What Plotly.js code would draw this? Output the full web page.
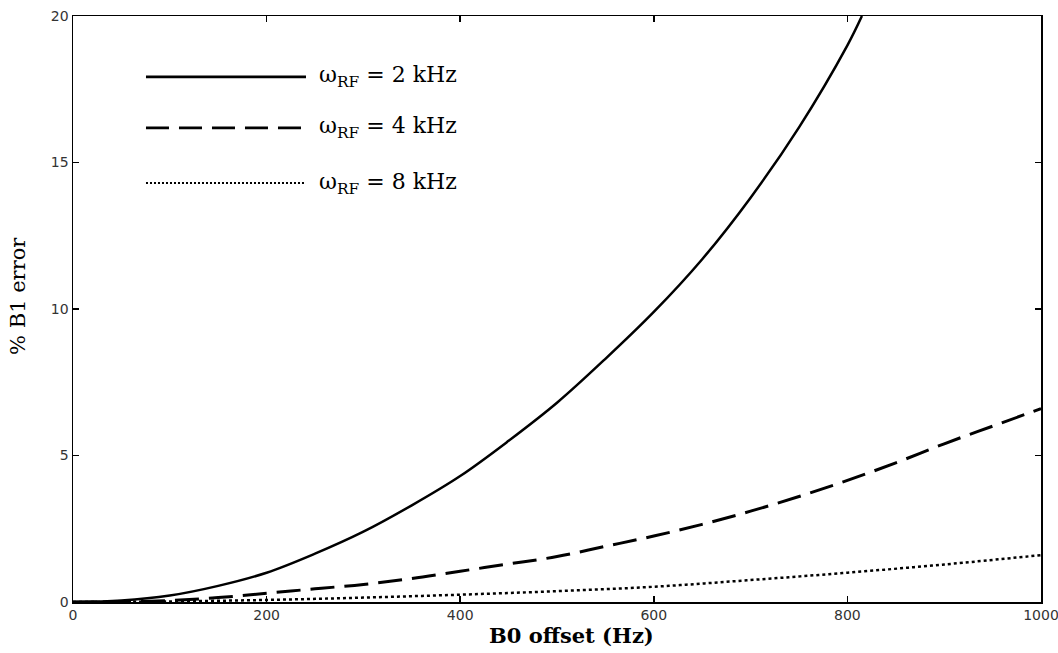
<!DOCTYPE html>
<html>
<head>
<meta charset="utf-8">
<script src="https://cdn.plot.ly/plotly-3.0.1.min.js"></script>
<style>html,body{margin:0;padding:0;background:#fff;}#chart{width:1058px;height:653px;}</style>
</head>
<body>
<div id="chart"></div>
<script>
// B0 offset (Hz)
const offset2k = [0, 50, 100, 150, 200, 250, 300, 350, 400, 450, 500, 550, 600, 650, 700, 750, 800, 815];
const error2k  = [0, 0.05, 0.22, 0.55, 1.0, 1.65, 2.4, 3.3, 4.3, 5.5, 6.8, 8.3, 9.9, 11.7, 13.8, 16.2, 19.0, 20.0];

const offset4k = [0, 50, 100, 150, 200, 250, 300, 350, 400, 450, 500, 550, 600, 650, 700, 750, 800, 850, 900, 950, 1000];
const error4k  = [0, 0.0, 0.05, 0.15, 0.3, 0.45, 0.6, 0.8, 1.05, 1.3, 1.55, 1.9, 2.25, 2.65, 3.1, 3.6, 4.15, 4.75, 5.4, 6.0, 6.6];

const offset8k = [0, 100, 200, 300, 400, 500, 600, 700, 800, 900, 1000];
const error8k  = [0, 0.02, 0.07, 0.15, 0.25, 0.37, 0.52, 0.75, 1.0, 1.28, 1.6];

const seriesNames = ['ω<sub>RF</sub> = 2 kHz', 'ω<sub>RF</sub> = 4 kHz', 'ω<sub>RF</sub> = 8 kHz'];
const xTicks = [0, 200, 400, 600, 800, 1000];
const yTicks = [0, 5, 10, 15, 20];
const xTitle = 'B0 offset (Hz)';
const yTitle = '% B1 error';

const dashes = ['solid', '24px,10px', '3px,3px'];
const widths = [2.5, 3, 2.5];

const traces = [
  {x: offset2k, y: error2k, name: seriesNames[0], mode: 'lines', line: {color: '#000', width: widths[0], dash: dashes[0], shape: 'spline'}},
  {x: offset4k, y: error4k, name: seriesNames[1], mode: 'lines', line: {color: '#000', width: widths[1], dash: dashes[1], shape: 'spline'}},
  {x: offset8k, y: error8k, name: seriesNames[2], mode: 'lines', line: {color: '#000', width: widths[2], dash: dashes[2], shape: 'spline'}}
];

// legend drawn manually (long line samples)
const legY = [0.896, 0.809, 0.715];
const legDash = ['solid', '23px,10px', '2px,2px'];
const shapes = [];
const annotations = [];
for (let i = 0; i < 3; i++) {
  shapes.push({type: 'line', xref: 'paper', yref: 'paper', x0: 0.0754, x1: 0.2407, y0: legY[i], y1: legY[i],
    line: {color: '#000', width: i === 2 ? 2 : 2.8, dash: legDash[i]}});
  annotations.push({xref: 'paper', yref: 'paper', x: 0.252, y: legY[i], xanchor: 'left', yanchor: 'middle',
    text: seriesNames[i], showarrow: false, font: {family: 'DejaVu Serif', size: 22, color: '#000'}});
}
// axis titles placed as in the reference
annotations.push({xref: 'paper', yref: 'paper', x: 0.515, y: -0.058, xanchor: 'center', yanchor: 'middle',
  text: xTitle, showarrow: false, font: {family: 'DejaVu Serif', size: 21, color: '#000', weight: 'bold'}});
annotations.push({xref: 'paper', yref: 'paper', x: -0.057, y: 0.522, xanchor: 'center', yanchor: 'middle', textangle: -90,
  text: yTitle, showarrow: false, font: {family: 'DejaVu Serif', size: 21, color: '#000'}});

const layout = {
  width: 1058, height: 653,
  margin: {l: 73, r: 17, t: 16, b: 51},
  paper_bgcolor: '#fff', plot_bgcolor: '#fff',
  showlegend: false,
  shapes: shapes,
  annotations: annotations,
  xaxis: {
    range: [0, 1000], tickvals: xTicks, ticktext: xTicks.map(String),
    ticks: 'inside', ticklen: 6, tickwidth: 1.5, tickcolor: '#000',
    showline: true, linecolor: '#000', linewidth: 1.5, mirror: 'ticks',
    showgrid: false, zeroline: false, ticklabeloverflow: 'allow',
    tickfont: {family: 'DejaVu Sans', size: 14, color: '#333'}
  },
  yaxis: {
    range: [0, 20], tickvals: yTicks, ticktext: yTicks.map(String),
    ticks: 'inside', ticklen: 6, tickwidth: 1.5, tickcolor: '#000',
    showline: true, linecolor: '#000', linewidth: 1.5, mirror: 'ticks',
    showgrid: false, zeroline: false, ticklabeloverflow: 'allow',
    tickfont: {family: 'DejaVu Sans', size: 14, color: '#333'}
  }
};

Plotly.newPlot('chart', traces, layout, {displayModeBar: false, staticPlot: true});
</script>
</body>
</html>
